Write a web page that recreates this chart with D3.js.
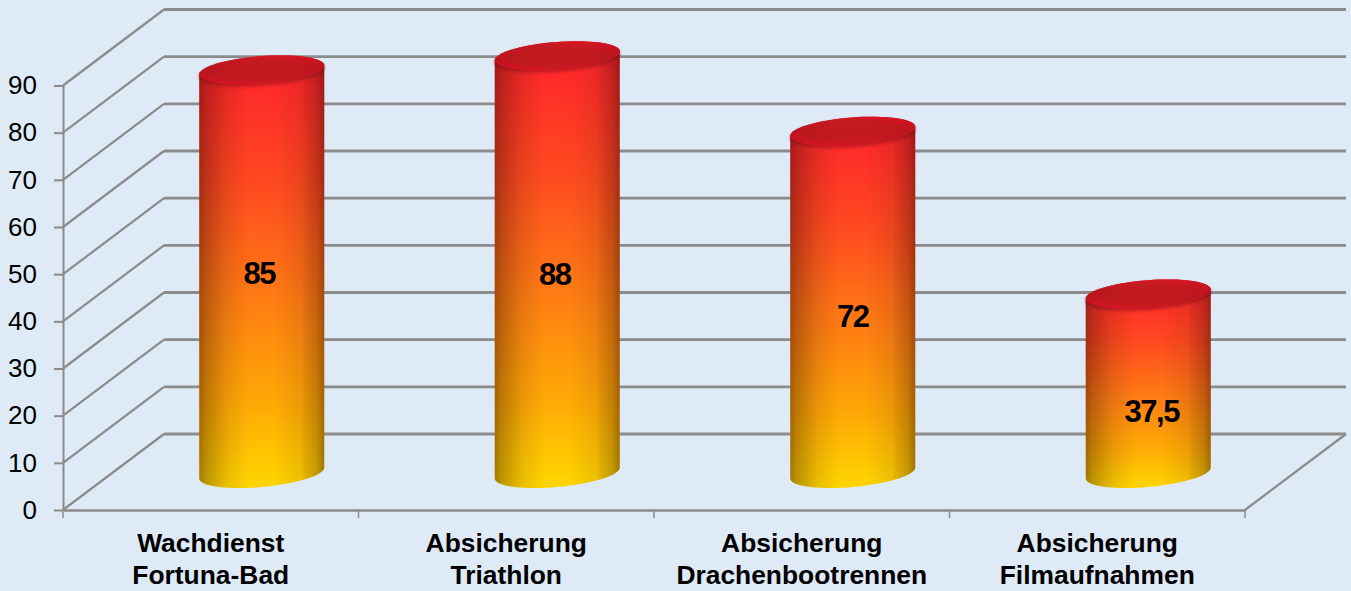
<!DOCTYPE html>
<html>
<head>
<meta charset="utf-8">
<script src="https://cdn.jsdelivr.net/npm/d3@7"></script>
<style>
  html, body { margin: 0; padding: 0; background: #deeaf6; overflow: hidden; }
  svg { display: block; font-family: "Liberation Sans", Arial, sans-serif; }
</style>
</head>
<body>
<svg></svg>
<script>
const categories = ["Wachdienst|Fortuna-Bad", "Absicherung|Triathlon", "Absicherung|Drachenbootrennen", "Absicherung|Filmaufnahmen"];
const values = [85, 88, 72, 37.5];
const valueLabels = ["85", "88", "72", "37,5"];
const yTicks = [0, 10, 20, 30, 40, 50, 60, 70, 80, 90];

const width = 1351, height = 591;
const svg = d3.select("svg").attr("width", width).attr("height", height);

const gridColor = "#8b8b8b";
const depth = { x: 101, y: -76 };   // offset of the back wall

const xScale = d3.scaleBand().domain(categories).range([63, 1245]);
const yScale = d3.scaleLinear().domain([0, 90]).range([510, 85.5]);

// gradients
const defs = svg.append("defs");
const body = defs.append("linearGradient").attr("id", "body")
  .attr("x1", 0).attr("y1", 0).attr("x2", 0).attr("y2", 1);
[[0, "#e81c28"], [0.07, "#ff2a2a"], [0.3, "#ff4a20"], [0.55, "#ff7a14"], [0.8, "#ffa806"], [1, "#ffd600"]]
  .forEach(s => body.append("stop").attr("offset", s[0]).attr("stop-color", s[1]));

const shade = defs.append("linearGradient").attr("id", "shade");
[[0, 0.42], [0.05, 0.3], [0.22, 0.1], [0.4, 0], [0.6, 0], [0.825, 0.09], [0.835, 0.13], [0.94, 0.26], [1, 0.42]]
  .forEach(s => shade.append("stop").attr("offset", s[0]).attr("stop-color", "#200400").attr("stop-opacity", s[1]));

const cap = defs.append("radialGradient").attr("id", "cap")
  .attr("cx", 0.5).attr("cy", 0.5).attr("r", 0.55);
[[0, "#c21a1e"], [0.65, "#c51a20"], [1, "#de1426"]]
  .forEach(s => cap.append("stop").attr("offset", s[0]).attr("stop-color", s[1]));

defs.append("filter").attr("id", "soft").append("feGaussianBlur").attr("stdDeviation", 1.6);

// walls and floor
const grid = svg.append("g").attr("fill", "none").attr("stroke", gridColor);
const x0 = xScale.range()[0], x1 = xScale.range()[1];

grid.selectAll(".back").data(yTicks).enter().append("line")
  .attr("x1", x0 + depth.x).attr("x2", x1 + depth.x)
  .attr("y1", d => yScale(d) + depth.y).attr("y2", d => yScale(d) + depth.y)
  .attr("stroke-width", 2.8);

grid.selectAll(".side").data(yTicks).enter().append("line")
  .attr("x1", x0).attr("x2", x0 + depth.x)
  .attr("y1", d => yScale(d)).attr("y2", d => yScale(d) + depth.y)
  .attr("stroke-width", 2.2);

grid.append("line")
  .attr("x1", x1).attr("x2", x1 + depth.x)
  .attr("y1", yScale(0)).attr("y2", yScale(0) + depth.y)
  .attr("stroke-width", 2.2);

// axes
const yAxis = d3.axisLeft(yScale).tickValues(yTicks).tickSize(9).tickPadding(17).tickSizeOuter(0);
const yAxisG = svg.append("g").attr("transform", `translate(${x0},0)`).call(yAxis);
yAxisG.selectAll("path, line").attr("stroke", gridColor).attr("stroke-width", 2);
yAxisG.selectAll("text").attr("font-size", 26).attr("font-family", "Liberation Sans").attr("fill", "#000");

const xAxis = d3.axisBottom(xScale).tickValues([]).tickSizeOuter(0);
const xAxisG = svg.append("g").attr("transform", `translate(0,${yScale(0)})`).call(xAxis);
xAxisG.select("path").attr("stroke", gridColor).attr("stroke-width", 2.6);
xAxisG.selectAll(".edge").data(d3.range(categories.length + 1)).enter().append("line")
  .attr("class", "edge")
  .attr("x1", i => x0 + i * xScale.bandwidth()).attr("x2", i => x0 + i * xScale.bandwidth())
  .attr("y1", 0).attr("y2", 8)
  .attr("stroke", gridColor).attr("stroke-width", 1.5);

// category labels, two lines each
const catLabels = svg.append("g").selectAll("text").data(categories).enter().append("text")
  .attr("text-anchor", "middle")
  .attr("font-size", 26.4).attr("font-weight", "bold").attr("fill", "#000")
  .attr("x", d => xScale(d) + xScale.bandwidth() / 2);
catLabels.selectAll("tspan").data(d => d.split("|")).enter().append("tspan")
  .attr("x", function() { return d3.select(this.parentNode).attr("x"); })
  .attr("y", (d, i) => 552 + i * 32)
  .text(d => d);

// cylinders sit half way into the floor
const rx = 62.5;
const topShape = { ry: 14, skew: 4.5 }, baseShape = { ry: 14, skew: 5.5 };
const cx = c => xScale(c) + xScale.bandwidth() / 2 + depth.x / 2 + 0.5;
const baseY = yScale(0) + depth.y / 2 + 1;
const topY = v => yScale(v) + depth.y / 2 - 1;

// ellipse is sheared, so the sides stay vertical at its left and right ends
function arc(ex, ey, shape, from, to) {
  return d3.range(0, 41).map(i => {
    const t = from + (to - from) * i / 40;
    return [ex + rx * Math.cos(t), ey + shape.ry * Math.sin(t) - shape.skew * Math.cos(t)];
  });
}
const line = d3.line();

function sidePath(c, v) {
  const top = arc(cx(c), topY(v), topShape, 0, -Math.PI);
  const bottom = arc(cx(c), baseY, baseShape, Math.PI, 0);
  return line(top.concat(bottom)) + "Z";
}
function capPath(c, v, dy) {
  return line(arc(cx(c), topY(v) + dy, topShape, 0, 2 * Math.PI)) + "Z";
}

const bars = svg.append("g").selectAll("g").data(categories).enter().append("g");
bars.append("path").attr("d", (c, i) => sidePath(c, values[i])).attr("fill", "url(#body)");
// soft dark rim right under the cap
bars.append("path").attr("d", (c, i) => capPath(c, values[i], 2))
  .attr("fill", "#c01a20").attr("filter", "url(#soft)");
bars.append("path").attr("d", (c, i) => sidePath(c, values[i])).attr("fill", "url(#shade)");
bars.append("path").attr("d", (c, i) => capPath(c, values[i], 0)).attr("fill", "url(#cap)");
bars.append("path").attr("d", (c, i) => capPath(c, values[i], 0)).attr("fill", "url(#shade)").attr("opacity", 0.35);

// value labels, hand nudged from the bar middle like the original
const labelNudge = [[-2.5, 1.5], [-2.5, 10.5], [0, 14.5], [3.5, 27.5]];
svg.append("g").selectAll("text").data(categories).enter().append("text")
  .attr("text-anchor", "middle").attr("dominant-baseline", "central")
  .attr("font-size", 31).attr("font-weight", "bold").attr("fill", "#000")
  .attr("letter-spacing", -1.4)
  .attr("x", (c, i) => cx(c) + labelNudge[i][0])
  .attr("y", (c, i) => (topY(values[i]) + baseY) / 2 + labelNudge[i][1])
  .text((c, i) => valueLabels[i]);
</script>
</body>
</html>
